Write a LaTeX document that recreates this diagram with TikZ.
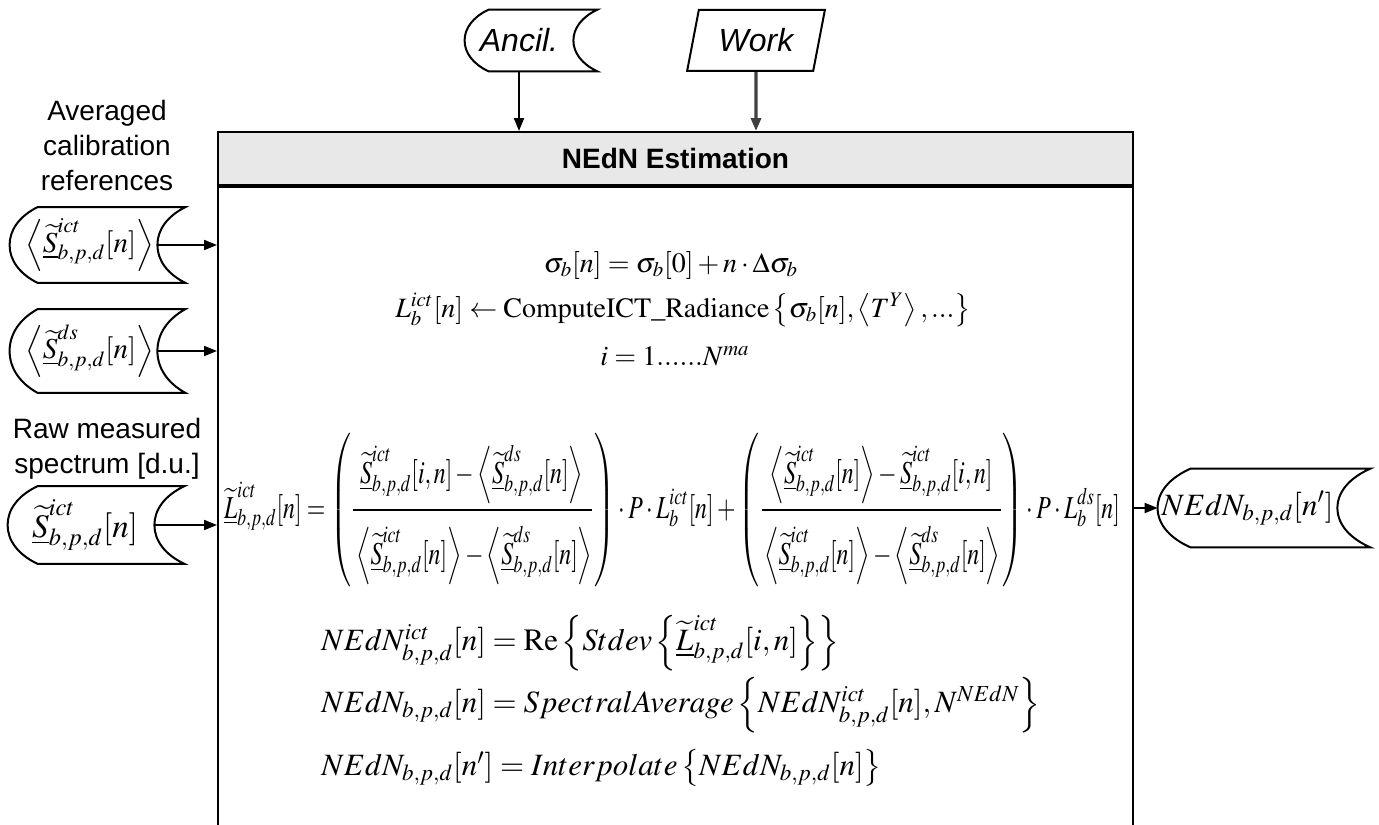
\documentclass[tikz,border=0pt]{standalone}
\usepackage{amsmath}
\usepackage{graphicx}
\usepackage{mathptmx}
\usepackage{fontspec}
\setmainfont{Liberation Serif}
\setsansfont{Liberation Sans}
\usetikzlibrary{arrows.meta,positioning,calc,shapes.geometric}
\definecolor{cInk}{HTML}{000000}
\definecolor{cHead}{HTML}{E8E8E8}
\definecolor{cWork}{HTML}{404040}
\newcommand\Sict{\underline{\widetilde{S}}^{ict}_{b,p,d}}
\newcommand\Sds{\underline{\widetilde{S}}^{ds}_{b,p,d}}
% stored data outline round a node: #1 node, #2 depth of the curves
\newcommand\storedshape[2]{%
  \draw[shp] ($(#1.north west)+(#2,0)$) -- ($(#1.north east)+(#2,0)$)
    .. controls ($(#1.north east)!0.12!(#1.south east)+(0.35*#2,0)$) and ($(#1.east)!0.4!(#1.north east)$) .. (#1.east)
    .. controls ($(#1.east)!0.4!(#1.south east)$) and ($(#1.south east)!0.12!(#1.north east)+(0.35*#2,0)$) .. ($(#1.south east)+(#2,0)$)
    -- ($(#1.south west)+(#2,0)$)
    .. controls ($(#1.south west)!0.12!(#1.north west)+(0.35*#2,0)$) and ($(#1.west)!0.4!(#1.south west)$) .. (#1.west)
    .. controls ($(#1.west)!0.4!(#1.north west)$) and ($(#1.north west)!0.12!(#1.south west)+(0.35*#2,0)$) .. cycle;}
\tikzset{
  >={Triangle[length=6.5pt,width=5pt]},
  lbl/.style    ={font=\sffamily\fontsize{14}{17.5}\selectfont,align=center,inner sep=0pt},
  hdrbox/.style ={draw=cInk,line width=1pt,fill=cHead,minimum width=457.5pt,
                  minimum height=26.5pt,font=\sffamily\bfseries\fontsize{14}{17}\selectfont},
  bodybox/.style={draw=cInk,line width=1pt,minimum width=457.5pt,
                  minimum height=322.5pt,anchor=north},
  datanode/.style={inner sep=0pt,font=\fontsize{14.5}{16}\selectfont},
  workbox/.style={trapezium,trapezium left angle=72,trapezium right angle=108,
                  trapezium stretches=true,draw=cInk,line width=1pt,
                  minimum width=69pt,minimum height=30.5pt,inner sep=0pt,
                  font=\sffamily\itshape\fontsize{16}{19}\selectfont},
  shp/.style    ={line width=1pt,cInk},
  ar/.style     ={->,line width=1pt,cInk},
  arw/.style    ={->,line width=1.6pt,cWork},
  eq/.style     ={inner sep=0pt,font=\fontsize{14}{17}\selectfont},
  eqb/.style    ={inner sep=0pt,font=\fontsize{15.5}{18}\selectfont},
}
\begin{document}
\begin{tikzpicture}[x=0.5pt,y=-0.5pt]
\clip (0,0) rectangle (1379,824);
% process box
\node[hdrbox] (hdr) at (675.5,158.5) {NEdN Estimation};
\node[bodybox] (est) at (hdr.south) {};
% inputs on top
\node[datanode,minimum width=54pt,minimum height=30.5pt,
      font=\sffamily\itshape\fontsize{16}{19}\selectfont] (anc) at (519,40.5) {Ancil.};
\storedshape{anc}{24}
\node[workbox] (work) at (756,40.5) {Work};
\draw[ar] (anc) -- (anc |- hdr.north);
\draw[arw] (work) -- (work |- hdr.north);
% inputs on the left
\node[lbl] (avg) at (107,145) {Averaged\\calibration\\references};
\node[datanode,minimum width=73.5pt,minimum height=37.5pt] (sict) at (83.5,245)
  {\hspace{6pt}$\left\langle\Sict[n]\right\rangle$};
\storedshape{sict}{28}
\node[datanode,minimum width=73.5pt,minimum height=41.5pt] (sds) at (83.5,351)
  {\hspace{6pt}$\left\langle\Sds[n]\right\rangle$};
\storedshape{sds}{28}
\node[lbl] (raw) at (107,449) {Raw measured\\spectrum [d.u.]};
\node[datanode,minimum width=73pt,minimum height=38.5pt,
      font=\fontsize{16.5}{18}\selectfont] (sraw) at (81,525) {\hspace{4pt}$\Sict[n]$};
\storedshape{sraw}{30}
\draw[ar] (sict) -- (sict -| est.west);
\draw[ar] (sds) -- (sds -| est.west);
\draw[ar] (sraw) -- (sraw -| est.west);
% output
\node[datanode,minimum width=89.5pt,minimum height=39pt,
      font=\fontsize{15.5}{18}\selectfont] (out) at (1247.5,508)
  {$NEdN_{b,p,d}[n']$};
\storedshape{out}{33}
\draw[ar] (out -| est.east) -- (out);
% equations
\node[eq] (eqsig) at (671,265) {$\sigma_b[n]=\sigma_b[0]+n\cdot\Delta\sigma_b$};
\node[eq] (eqrad) at (683,310)
  {$L^{ict}_b[n]\leftarrow\mathrm{ComputeICT\_Radiance}\left\{\sigma_b[n],\left\langle T^Y\right\rangle,...\right\}$};
\node[eq] (eqidx) at (675,356) {$i=1......N^{ma}$};
\node[eq,font=\fontsize{16}{19}\selectfont] (eqcal) at (672,510) {\scalebox{0.745}[1]{$\displaystyle
  \underline{\widetilde{L}}^{ict}_{b,p,d}[n]=
  \left(\frac{\Sict[i,n]-\left\langle\Sds[n]\right\rangle\rule[-11pt]{0pt}{11pt}}
             {\rule{0pt}{25pt}\left\langle\Sict[n]\right\rangle-\left\langle\Sds[n]\right\rangle}\right)
  \cdot P\cdot L^{ict}_b[n]+
  \left(\frac{\left\langle\Sict[n]\right\rangle-\Sict[i,n]\rule[-11pt]{0pt}{11pt}}
             {\rule{0pt}{25pt}\left\langle\Sict[n]\right\rangle-\left\langle\Sds[n]\right\rangle}\right)
  \cdot P\cdot L^{ds}_b[n]$}};
\node[eqb,anchor=west] (eqstd) at (321,643)
  {$NEdN^{ict}_{b,p,d}[n]=\mathrm{Re}\left\{Stdev\left\{\underline{\widetilde{L}}^{ict}_{b,p,d}[i,n]\right\}\right\}$};
\node[eqb,anchor=west] (eqavg) at (321,705)
  {$NEdN_{b,p,d}[n]=SpectralAverage\left\{NEdN^{ict}_{b,p,d}[n],N^{NEdN}\right\}$};
\node[eqb,anchor=west] (eqint) at (321,768)
  {$NEdN_{b,p,d}[n']=Interpolate\left\{NEdN_{b,p,d}[n]\right\}$};
\end{tikzpicture}
\end{document}
